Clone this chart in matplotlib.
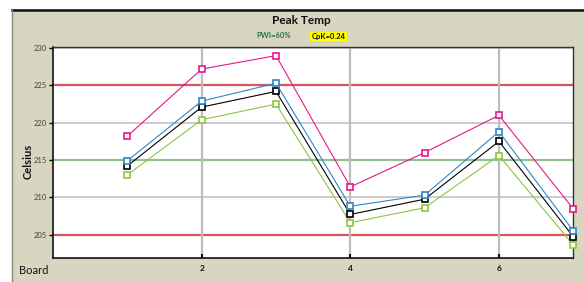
import matplotlib
matplotlib.use("Agg")
import matplotlib.pyplot as plt
from matplotlib.patches import Rectangle
from matplotlib.lines import Line2D

plt.rcParams['font.family'] = ['Lato', 'DejaVu Sans']

boards = [1, 2, 3, 4, 5, 6, 7]
pink = [218.2, 227.2, 229.0, 211.4, 216.0, 221.0, 208.45]
blue = [214.9, 222.9, 225.3, 208.8, 210.3, 218.8, 205.5]
black = [214.2, 222.1, 224.2, 207.7, 209.75, 217.5, 204.7]
green = [213.0, 220.4, 222.5, 206.6, 208.6, 215.6, 203.6]
series = [("green", green, "#8cc63f"), ("black", black, "#000000"),
          ("blue", blue, "#2f86c8"), ("pink", pink, "#e8178a")]
ytick_vals = [205, 210, 215, 220, 225, 230]
xtick_vals = [2, 4, 6]
limit_lines = [205, 225]
target_line = 215
title = "Peak Temp"
pwi_text = "PWI=60%"
cpk_text = "CpK=0.24"

W, H = 584, 282
fig = plt.figure(figsize=(W / 100, H / 100), dpi=100)
fig.patch.set_facecolor("white")

def fx(px):
    return px / W

def fy(py):
    return 1 - py / H

# beige panel with borders
fig.patches.append(Rectangle((fx(12), 0), 1 - fx(12), fy(9), transform=fig.transFigure,
                             facecolor="#d8d5c0", edgecolor="none", zorder=-10))
fig.lines.append(Line2D([fx(12), 1], [fy(9.5), fy(9.5)], transform=fig.transFigure,
                        color="#111111", lw=1.8))
fig.lines.append(Line2D([fx(12.3), fx(12.3)], [0, fy(9.5)], transform=fig.transFigure,
                        color="#8a8a80", lw=1.0))

ax = fig.add_axes([fx(53), fy(257.7), fx(573.3) - fx(53), fy(46.7) - fy(257.7)])
ax.set_facecolor("white")
ax.set_xlim(0, 7)
ax.set_ylim(201.9, 230.2)

for v in ytick_vals:
    if v in limit_lines:
        ax.axhline(v, color="#d9545c", lw=1.6, zorder=1)
    elif v == target_line:
        ax.axhline(v, color="#8fc28f", lw=1.6, zorder=1)
    else:
        ax.axhline(v, color="#c4c4c4", lw=1.2, zorder=1)
for v in xtick_vals:
    ax.axvline(v, color="#bdbdbd", lw=1.6, zorder=1)

for name, vals, col in series:
    ax.plot(boards, vals, color=col, lw=0.8, marker="s", markersize=4.3,
            markerfacecolor="white", markeredgecolor=col, markeredgewidth=1.2,
            zorder=3, clip_on=False)

ax.set_yticks(ytick_vals)
ax.set_yticklabels([str(v) for v in ytick_vals], fontsize=5.5, color="#444444")
ax.set_xticks(xtick_vals)
ax.set_xticklabels([str(v) for v in xtick_vals], fontsize=6, fontweight="bold", color="#111111")
ax.tick_params(axis="y", direction="out", length=3, width=1, pad=1.5)
ax.tick_params(axis="x", direction="in", length=3, width=1.5, pad=5, color="#111111")
for v, t in zip(ytick_vals, ax.yaxis.get_major_ticks()):
    if v in limit_lines:
        t.tick1line.set_color("#d9545c")
    elif v == target_line:
        t.tick1line.set_color("#8fc28f")
    else:
        t.tick1line.set_color("#999999")

for s in ["left", "bottom"]:
    ax.spines[s].set_color("#111111")
    ax.spines[s].set_linewidth(1.2)
for s in ["top", "right"]:
    ax.spines[s].set_color("#333333")
    ax.spines[s].set_linewidth(1.0)

fig.text(fx(301.5), fy(21), title, ha="center", va="center", fontsize=8.5, fontweight="bold", color="#111111")
fig.text(fx(274), fy(36), pwi_text, ha="center", va="center", fontsize=5.5, fontweight="bold", color="#1e7a3c")
fig.text(fx(328.5), fy(36.5), cpk_text, ha="center", va="center", fontsize=5.5, fontweight="bold", color="#111111",
         bbox=dict(boxstyle="square,pad=0.15", facecolor="#ffff00", edgecolor="none"))
fig.text(fx(28), fy(161), "Celsius", ha="center", va="center", rotation=90, fontsize=8, fontweight="bold", color="#111111")
fig.text(fx(34), fy(271), "Board", ha="center", va="center", fontsize=8, color="#111111")

fig.savefig("out.png", dpi=100, facecolor=fig.get_facecolor())
